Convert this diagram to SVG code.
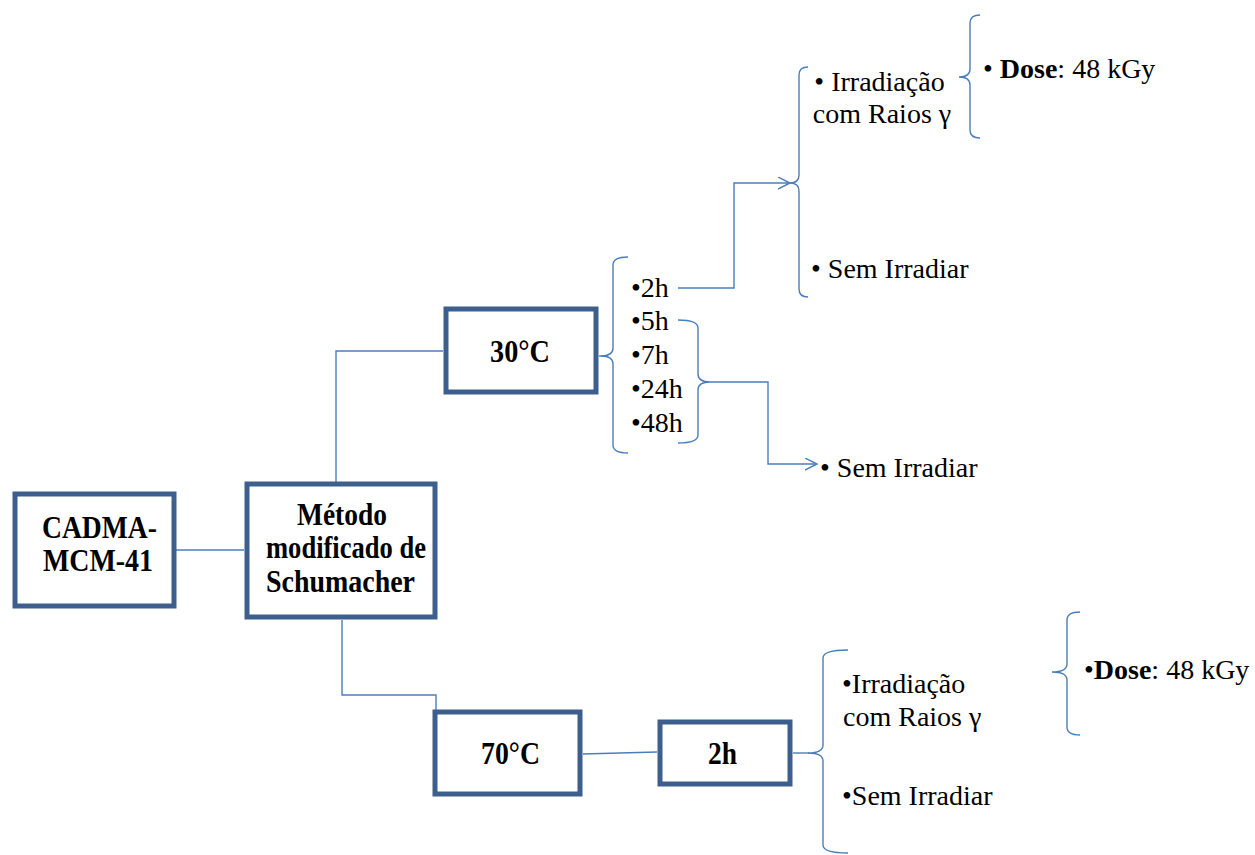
<svg xmlns="http://www.w3.org/2000/svg" width="1255" height="855" viewBox="0 0 1255 855">
  <style>
    .box { fill: #ffffff; stroke: #3c5f8e; stroke-width: 5; }
    .link { fill: none; stroke: #4a7ebb; stroke-width: 1.4; }
    .brace { fill: none; stroke: #4a7ebb; stroke-width: 1.4; }
    .bold { font-family: "Liberation Serif", "Times New Roman", serif; font-weight: bold; font-size: 31px; fill: #000; }
    .txt { font-family: "Liberation Serif", "Times New Roman", serif; font-size: 28px; fill: #000; }
  </style>
  <defs>
    <marker id="open-arrow" markerUnits="userSpaceOnUse" markerWidth="14" markerHeight="14" refX="12" refY="6" orient="auto">
      <path d="M0,0 L12,6 L0,12" fill="none" stroke="#4a7ebb" stroke-width="1.4"/>
    </marker>
  </defs>

  <rect width="1255" height="855" fill="#ffffff"/>

  <!-- connectors -->
  <g id="connectors">
    <path class="link" d="M176,550 H244"/>
    <path class="link" d="M336,482 V351 H443"/>
    <path class="link" d="M342,620 V695 H436 V710"/>
    <path class="link" d="M583,754 L657,752"/>
    <path class="link" d="M793,753 H809"/>
    <path class="link" d="M599,356 H602"/>
    <path class="link" d="M678,288 H734 V183 H790" marker-end="url(#open-arrow)"/>
    <path class="link" d="M710,382 H768 V464 H817" marker-end="url(#open-arrow)"/>
  </g>

  <!-- braces -->
  <g id="braces">
    <!-- 30°C time list -->
    <path class="brace" d="M628,257 Q613,257 613,265 L613,348 Q613,356 601,356 Q613,356 613,364 L613,445 Q613,453 628,453"/>
    <!-- 5h to 48h (closing) -->
    <path class="brace" d="M678,320 Q698,320 698,328 L698,374 Q698,382 710,382 Q698,382 698,390 L698,435 Q698,443 678,443"/>
    <!-- top irradiation options -->
    <path class="brace" d="M808,67 Q799,67 799,75 L799,175 Q799,183 790,183 Q799,183 799,191 L799,289 Q799,297 808,297"/>
    <!-- top dose -->
    <path class="brace" d="M980,15 Q970,15 970,23 L970,69 Q970,77 959,77 Q970,77 970,85 L970,130 Q970,138 980,138"/>
    <!-- bottom dose -->
    <path class="brace" d="M1080,612 Q1067,612 1067,620 L1067,664 Q1067,672 1052,672 Q1067,672 1067,680 L1067,727 Q1067,735 1080,735"/>
    <!-- bottom irradiation options -->
    <path class="brace" d="M848,650 Q823,650 823,658 L823,745 Q823,753 808,753 Q823,753 823,761 L823,845 Q823,853 848,853"/>
  </g>

  <!-- nodes -->
  <g id="node-cadma">
    <rect class="box" x="15" y="494" width="159" height="112"/>
    <text class="bold" x="42" y="538" textLength="115" lengthAdjust="spacingAndGlyphs">CADMA-</text>
    <text class="bold" x="43" y="571" textLength="110" lengthAdjust="spacingAndGlyphs">MCM-41</text>
  </g>

  <g id="node-metodo">
    <rect class="box" x="247" y="484" width="188" height="133"/>
    <text class="bold" x="297" y="525" textLength="90" lengthAdjust="spacingAndGlyphs">Método</text>
    <text class="bold" x="266" y="558" textLength="160" lengthAdjust="spacingAndGlyphs">modificado de</text>
    <text class="bold" x="266" y="592" textLength="149" lengthAdjust="spacingAndGlyphs">Schumacher</text>
  </g>

  <g id="node-30c">
    <rect class="box" x="446" y="309" width="150" height="83"/>
    <text class="bold" x="490" y="362" textLength="60" lengthAdjust="spacingAndGlyphs">30°C</text>
  </g>

  <g id="node-70c">
    <rect class="box" x="435" y="712" width="145" height="82"/>
    <text class="bold" x="481" y="764" textLength="59" lengthAdjust="spacingAndGlyphs">70°C</text>
  </g>

  <g id="node-2h">
    <rect class="box" x="660" y="722" width="130" height="62"/>
    <text class="bold" x="708" y="764" textLength="29" lengthAdjust="spacingAndGlyphs">2h</text>
  </g>

  <g id="list-times">
    <text class="txt" x="631" y="297">•2h</text>
    <text class="txt" x="631" y="330">•5h</text>
    <text class="txt" x="631" y="364">•7h</text>
    <text class="txt" x="631" y="398">•24h</text>
    <text class="txt" x="631" y="432">•48h</text>
  </g>

  <g id="top-options">
    <text class="txt" text-anchor="middle">
      <tspan x="883" y="91">• Irradiação</tspan>
      <tspan x="882" y="123">com Raios γ</tspan>
    </text>
    <text class="txt" x="811" y="278">• Sem Irradiar</text>
  </g>

  <g id="top-dose">
    <text class="txt" x="983" y="78">• <tspan font-weight="bold">Dose</tspan>: 48 kGy</text>
  </g>

  <g id="middle-option">
    <text class="txt" x="820" y="477">• Sem Irradiar</text>
  </g>

  <g id="bottom-options">
    <text class="txt">
      <tspan x="842" y="693">•Irradiação</tspan>
      <tspan x="843" y="726">com Raios γ</tspan>
    </text>
    <text class="txt" x="842" y="805">•Sem Irradiar</text>
  </g>

  <g id="bottom-dose">
    <text class="txt" x="1084" y="679">•<tspan font-weight="bold">Dose</tspan>: 48 kGy</text>
  </g>
</svg>
